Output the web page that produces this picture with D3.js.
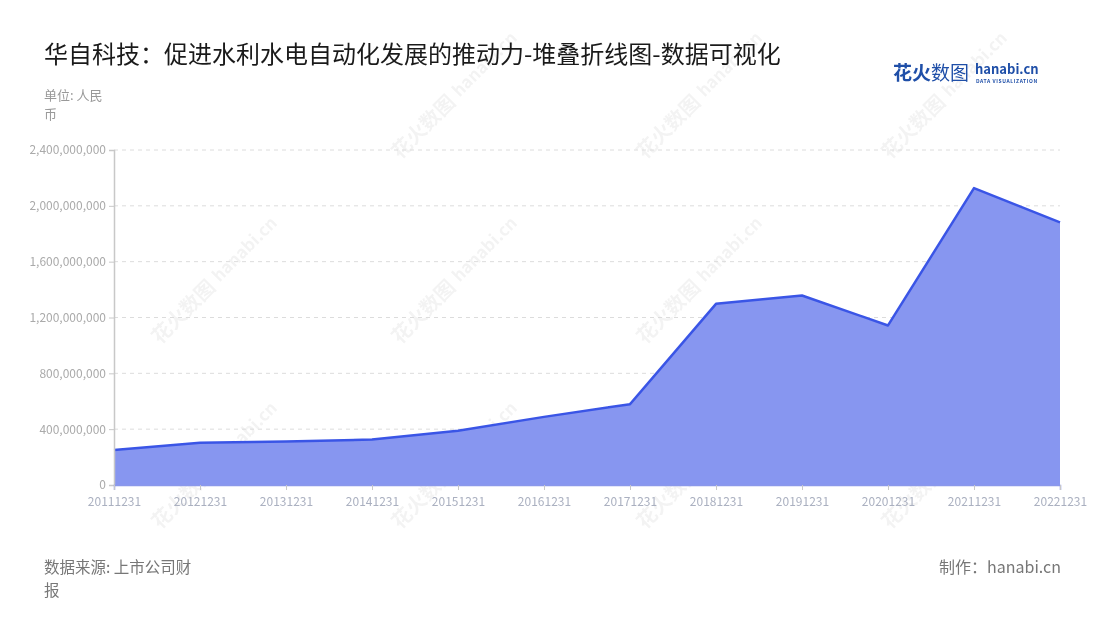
<!DOCTYPE html>
<html><head><meta charset="utf-8">
<script src="https://cdn.jsdelivr.net/npm/d3@7"></script>
<style>
body{margin:0;background:#fff;}
svg text{font-family:"Noto Sans CJK SC","Noto Sans",sans-serif;}
</style></head>
<body><svg id="c" width="1100" height="620"></svg>
<script>
const categories = ["20111231","20121231","20131231","20141231","20151231","20161231","20171231","20181231","20191231","20201231","20211231","20221231"];
const values = [250000000,302000000,312000000,326000000,388000000,488000000,579000000,1298000000,1358000000,1143000000,2127000000,1882000000];
const yTicks = [0,400000000,800000000,1200000000,1600000000,2000000000,2400000000];
const title = "华自科技：促进水利水电自动化发展的推动力-堆叠折线图-数据可视化";
const unitLines = ["单位: 人民","币"];
const sourceLines = ["数据来源: 上市公司财","报"];
const credit = "制作：hanabi.cn";

const svg = d3.select("#c");
const m = {l:114, r:1060, t:150, b:485};
const x = d3.scalePoint().domain(categories).range([m.l, m.r]);
const y = d3.scaleLinear().domain([0,2400000000]).range([m.b, m.t]);

// watermarks
const wm = svg.append("g").attr("opacity",0.05);
const wmPos = [[400,160],[645,160],[890,160],[160,345],[400,345],[645,345],[890,345],[400,530],[645,530],[890,530],[160,530]];
wmPos.forEach(p=>{
  const g = wm.append("g").attr("transform",`translate(${p[0]},${p[1]}) rotate(-45)`);
  g.append("text").attr("x",0).attr("y",0).attr("font-size",20).attr("font-weight","bold").attr("fill","#000").text("花火数图");
  g.append("text").attr("x",86).attr("y",-2).attr("font-size",17).attr("font-weight","bold").attr("fill","#000").text("hanabi.cn");
});

// grid
svg.append("g").selectAll("line").data(yTicks.filter(d=>d>0)).join("line")
  .attr("x1",m.l).attr("x2",m.r).attr("y1",d=>y(d)).attr("y2",d=>y(d))
  .attr("stroke","#dcdcdc").attr("stroke-dasharray","4,4").attr("stroke-width",1);

// area
const data = categories.map((c,i)=>({c, v:values[i]}));
svg.append("path").datum(data)
  .attr("d", d3.area().x(d=>x(d.c)).y0(y(0)).y1(d=>y(d.v)))
  .attr("fill","#8796f0");
svg.append("path").datum(data)
  .attr("d", d3.line().x(d=>x(d.c)).y(d=>y(d.v)))
  .attr("fill","none").attr("stroke","#3a55e6").attr("stroke-width",2.5).attr("stroke-linejoin","round");

// y axis
const ya = svg.append("g").attr("transform",`translate(${m.l},0)`)
  .call(d3.axisLeft(y).tickValues(yTicks).tickFormat(d3.format(",")).tickSize(5).tickPadding(3));
ya.select(".domain").attr("stroke","#c8c8c8").attr("stroke-width",1.5);
ya.selectAll(".tick line").attr("stroke","#c8c8c8");
ya.selectAll("text").attr("fill","#aaaaaa").attr("font-size",12).attr("font-family","'Noto Sans',sans-serif");

// x axis
const xa = svg.append("g").attr("transform",`translate(0,${m.b})`)
  .call(d3.axisBottom(x).tickSize(5).tickPadding(7));
xa.select(".domain").attr("stroke","#8a98ea").attr("stroke-width",1.5);
xa.selectAll(".tick line").attr("stroke","#c8c8c8");
xa.selectAll("text").attr("fill","#aab0c0").attr("font-size",12).attr("font-family","'Noto Sans',sans-serif");

// title
svg.append("text").attr("x",44).attr("y",63).attr("font-size",24).attr("fill","#1a1a1a").text(title);
// unit (wrapped)
svg.append("text").attr("font-size",13).attr("fill","#999")
  .selectAll("tspan").data(unitLines).join("tspan")
  .attr("x",44).attr("y",(d,i)=>100+i*19).text(d=>d);
// footer
svg.append("text").attr("font-size",15.5).attr("fill","#777")
  .selectAll("tspan").data(sourceLines).join("tspan")
  .attr("x",44).attr("y",(d,i)=>573+i*23).text(d=>d);
svg.append("text").attr("x",1061).attr("y",573).attr("text-anchor","end").attr("font-size",16).attr("fill","#777").text(credit);

// logo
const lg = svg.append("g");
lg.append("text").attr("x",893).attr("y",80).attr("font-size",19).attr("font-weight","bold").attr("fill","#1f4fa8").text("花火");
lg.append("text").attr("x",931).attr("y",80).attr("font-size",19).attr("fill","#1f4fa8").text("数图");
lg.append("text").attr("x",975).attr("y",74).attr("font-size",13).attr("font-weight","bold").attr("fill","#1f4fa8").attr("font-family","'Noto Sans',sans-serif").text("hanabi.cn");
lg.append("text").attr("x",976).attr("y",83).attr("font-size",5).attr("font-weight","bold").attr("fill","#1f4fa8").attr("letter-spacing",0.6).attr("font-family","'Noto Sans',sans-serif").text("DATA VISUALIZATION");
</script></body></html>
